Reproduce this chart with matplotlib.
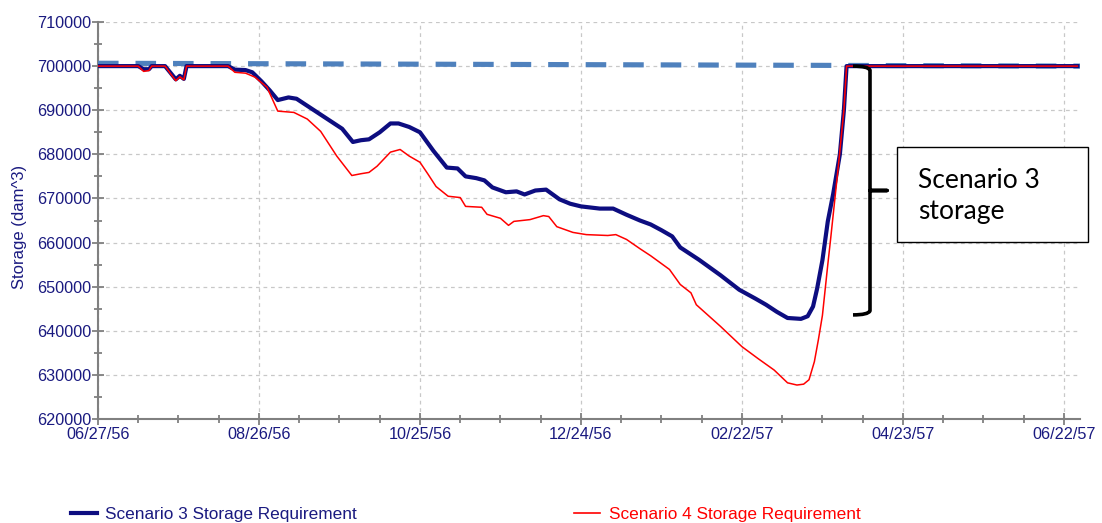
import matplotlib
matplotlib.use("Agg")
import matplotlib.pyplot as plt
import matplotlib.dates as mdates
from matplotlib.patches import Rectangle, PathPatch
from matplotlib.path import Path
from matplotlib.lines import Line2D
import matplotlib.transforms as mtransforms
import numpy as np
import datetime as dt

plt.rcParams['font.family'] = ['Liberation Sans', 'DejaVu Sans']

# ---------------- data ----------------
start_date = dt.date(1956, 6, 27)

s3_days = [0, 15, 17, 19, 20, 25, 27, 29, 30.5, 32, 33, 48.5, 51, 55, 57.5, 61, 64, 67, 71, 74,
           78, 82, 86, 91, 95, 98, 101, 105, 109, 112, 116, 120, 125, 130, 134, 137, 141, 144,
           147, 152, 156, 159, 163, 167, 172, 176, 180, 187, 192, 197, 202, 206, 210, 214, 217,
           224, 232, 239, 245, 249, 253, 257, 262, 264.5, 266.5, 268, 270, 272, 274, 276.5, 278,
           279, 365]
s3_vals = [700000, 700000, 699300, 699300, 700000, 700000, 698500, 697000, 697800, 697100, 700000,
           700000, 699200, 699100, 698600, 696500, 694500, 692300, 692900, 692600, 691000, 689400,
           687800, 685800, 682800, 683200, 683400, 685000, 687000, 687000, 686200, 685000, 680800,
           677000, 676800, 675000, 674600, 674100, 672500, 671400, 671600, 670900, 671800, 672000,
           669800, 668800, 668200, 667700, 667700, 666300, 665000, 664100, 662800, 661400, 658900,
           656100, 652600, 649300, 647300, 645900, 644300, 642900, 642700, 643300, 645500, 649500,
           656000, 664800, 671000, 680000, 690000, 700000, 700000]

s4_days = [0, 15, 17, 19, 20, 25, 27, 29, 30.5, 32, 33, 48.5, 51, 55, 58.5, 63, 67, 73, 78, 83,
           89, 94.6, 98, 101, 104, 109, 112.6, 116, 120, 123, 126, 130.5, 135, 137, 143, 145, 150,
           153, 155, 161, 166, 168, 171, 177, 182, 190, 193, 197, 202, 206, 213, 217, 221, 223,
           232, 240, 246, 252, 257, 260.5, 263, 265, 267, 268.5, 270, 272, 273, 276, 278, 279, 365]
s4_vals = [700000, 700000, 698800, 699000, 700000, 700000, 698300, 696700, 697600, 696900, 700000,
           700000, 698600, 698400, 697500, 695200, 689800, 689500, 688000, 685200, 679600, 675200,
           675600, 675900, 677300, 680500, 681100, 679600, 678200, 675500, 672700, 670500, 670200,
           668200, 668000, 666400, 665500, 663900, 664800, 665200, 666100, 665900, 663600, 662300,
           661800, 661600, 661800, 660700, 658600, 657000, 653900, 650500, 648600, 645900, 641000,
           636400, 633700, 631100, 628200, 627700, 627900, 628900, 633000, 638000, 643500, 655000,
           660500, 677700, 690000, 700000, 700000]

target_days = [0, 366]
target_vals = [700650, 700000]

s3_label = "Scenario 3 Storage Requirement"
s4_label = "Scenario 4 Storage Requirement"
y_label = "Storage (dam^3)"
note_text = "Scenario 3\nstorage"
brace_vals = [700000, 643600]


def to_dates(days):
    return [dt.datetime.combine(start_date, dt.time()) + dt.timedelta(days=float(d)) for d in days]


navy = "#0d0d80"
label_col = "#1a1a80"
grid_col = "#c8c8c8"
axis_col = "#808080"

fig = plt.figure(figsize=(11.02, 5.23), dpi=100)
ax = fig.add_axes([98 / 1102, 1 - 419 / 523, (1080 - 98) / 1102, (419 - 22) / 523])

ax.plot(to_dates(target_days), target_vals, color="#4f81bd", lw=3.7, dashes=(4.0, 3.3),
        solid_capstyle="butt", dash_capstyle="butt", zorder=3)
ax.plot(to_dates(s3_days), s3_vals, color=navy, lw=3.0, zorder=4, solid_joinstyle="round")
ax.plot(to_dates(s4_days), s4_vals, color="#ff0000", lw=1.1, zorder=5)

x0 = dt.datetime.combine(start_date, dt.time())
ax.set_xlim(x0, x0 + dt.timedelta(days=366))
ax.set_ylim(620000, 710000)

major_dates = [x0 + dt.timedelta(days=60 * i) for i in range(7)]
minor_dates = [x0 + dt.timedelta(days=15 * i) for i in range(25)]
ax.set_xticks(major_dates)
ax.set_xticks(minor_dates, minor=True)
ax.xaxis.set_major_formatter(mdates.DateFormatter("%m/%d/%y"))
ax.set_yticks(np.arange(620000, 710001, 10000))
ax.set_yticks(np.arange(620000, 710001, 5000), minor=True)
ax.yaxis.set_major_formatter(matplotlib.ticker.FuncFormatter(lambda v, p: f"{int(v)}"))

for s in ["top", "right"]:
    ax.spines[s].set_visible(False)
for s in ["left", "bottom"]:
    ax.spines[s].set_color(axis_col)
    ax.spines[s].set_linewidth(1.5)

ax.tick_params(axis="both", which="major", direction="inout", length=9, width=1.3,
               color=axis_col, labelcolor=label_col, labelsize=11.7)
ax.tick_params(axis="both", which="minor", direction="inout", length=6, width=1.3,
               color=axis_col)
ax.tick_params(axis="y", which="major", pad=0)
ax.tick_params(axis="x", which="major", pad=1)

ax.grid(True, which="major", color=grid_col, linestyle=(0, (3, 3)), lw=0.9, zorder=0)
ax.set_axisbelow(True)

fig.text(20 / 1102, 1 - 227 / 523, y_label, rotation=90, ha="center", va="center",
         color=label_col, fontsize=12)

# legend
handles = [Line2D([], [], color=navy, lw=3), Line2D([], [], color="#ff0000", lw=1.2)]
leg = fig.legend(handles, [s3_label, s4_label], ncol=2, frameon=False,
                 loc="center left", bbox_to_anchor=(71 / 1102, 1 - 514 / 523),
                 fontsize=12.4, handlelength=1.5, handletextpad=0.5, columnspacing=12.6,
                 borderpad=0, borderaxespad=0)
for t, c in zip(leg.get_texts(), [label_col, "#ff0000"]):
    t.set_color(c)

# brace annotation
trans = mtransforms.blended_transform_factory(ax.transAxes, ax.transData)
xa = (853 - 98) / 982
xb = (870 - 98) / 982
xc = (887 - 98) / 982
ytop, ybot = brace_vals
ymid = (ytop + ybot) / 2
r = 900
verts = [(xa, ytop), (xb - 0.002, ytop), (xb, ytop - r), (xb, ymid),
         (xc, ymid), (xb, ymid), (xb, ybot + r), (xb - 0.002, ybot), (xa, ybot)]
codes = [Path.MOVETO, Path.CURVE3, Path.CURVE3, Path.LINETO,
         Path.LINETO, Path.LINETO, Path.LINETO, Path.CURVE3, Path.CURVE3]
brace = PathPatch(Path(verts, codes), transform=trans, fill=False, edgecolor="black",
                  lw=2.6, clip_on=False, zorder=6, capstyle="butt", joinstyle="round")
ax.add_patch(brace)

box = Rectangle((897 / 1102, 1 - 242 / 523), 191 / 1102, 95 / 523, transform=fig.transFigure,
                facecolor="white", edgecolor="black", lw=1.0, zorder=10)
fig.add_artist(box)
fig.text(918 / 1102, 1 - 168 / 523, note_text, ha="left", va="top", fontsize=19,
         family=["Lato", "DejaVu Sans"], color="black", zorder=11, linespacing=1.3)

fig.savefig("out.png", dpi=100)
